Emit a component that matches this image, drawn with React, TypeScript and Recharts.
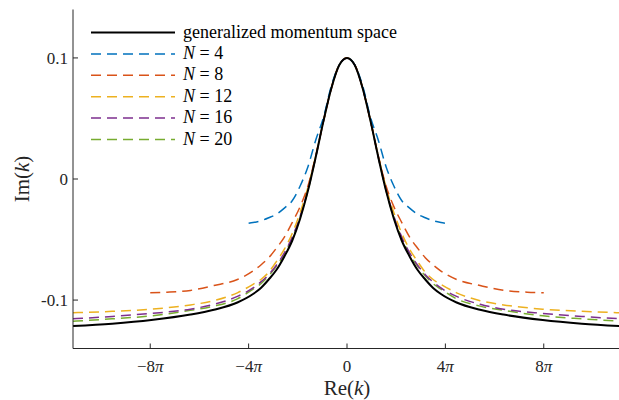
import { Legend, Line, LineChart, XAxis, YAxis } from "recharts"

const PI = Math.PI
const FONT = "'Liberation Serif', 'DejaVu Serif', serif"
const AXIS = "#262626"

// ticks
const xTicks = [-8 * PI, -4 * PI, 0, 4 * PI, 8 * PI]
const xTickLabels = ["−8", "−4", "0", "4", "8"]
const yTicks = [-0.1, 0, 0.1]
const yTickLabels = ["-0.1", "0", "0.1"]

// right half of each curve (the picture is symmetric about Re(k) = 0)
const xExact = [0, 1, 2, 3, 4, 5, 6, 7, 8, 9, 10, 11, 12, 14, 17, 20, 25, 30, 35]
const yExact = [0.1, 0.094, 0.075, 0.048, 0.018, -0.01, -0.033, -0.051, -0.064, -0.075, -0.083, -0.09, -0.095, -0.102, -0.108, -0.112, -0.1165, -0.1195, -0.1215]

const xN4 = [0, 1, 2, 3, 4, 5, 6, 7, 8, 9, 10, 11, 12, 4 * PI]
const yN4 = [0.1, 0.094, 0.077, 0.051, 0.032, 0.01, -0.006, -0.018, -0.024, -0.029, -0.032, -0.0345, -0.036, -0.0366]

const xN8 = [0, 1, 2, 3, 4, 5, 6, 7, 8, 9, 10, 11, 12, 14, 17, 20, 23, 8 * PI]
const yN8 = [0.1, 0.094, 0.075, 0.048, 0.019, -0.006, -0.023, -0.036, -0.048, -0.057, -0.065, -0.071, -0.076, -0.083, -0.088, -0.092, -0.0935, -0.094]

const yN12 = [0.1, 0.094, 0.075, 0.048, 0.019, -0.007, -0.028, -0.045, -0.058, -0.068, -0.077, -0.083, -0.087, -0.094, -0.1005, -0.104, -0.1075, -0.1093, -0.1105]
const yN16 = [0.1, 0.094, 0.075, 0.048, 0.018, -0.009, -0.031, -0.048, -0.061, -0.071, -0.079, -0.085, -0.09, -0.097, -0.1035, -0.1075, -0.111, -0.1135, -0.1155]
const yN20 = [0.1, 0.094, 0.075, 0.048, 0.018, -0.01, -0.032, -0.049, -0.062, -0.072, -0.08, -0.0865, -0.091, -0.099, -0.105, -0.1085, -0.113, -0.1155, -0.1175]

const mirror = (xs: number[], ys: number[]) => {
  const right = xs.map((x, i) => ({ x, y: ys[i] }))
  const left = right.slice(1).reverse().map((p) => ({ x: -p.x, y: p.y }))
  return [...left, ...right]
}

const series = [
  { key: "exact", n: null, color: "#000000", width: 2, dash: undefined, data: mirror(xExact, yExact) },
  { key: "n4", n: "4", color: "#0072BD", width: 1.5, dash: "10 6", data: mirror(xN4, yN4) },
  { key: "n8", n: "8", color: "#D95319", width: 1.5, dash: "10 6", data: mirror(xN8, yN8) },
  { key: "n12", n: "12", color: "#EDB120", width: 1.5, dash: "10 6", data: mirror(xExact, yN12) },
  { key: "n16", n: "16", color: "#7E2F8E", width: 1.5, dash: "10 6", data: mirror(xExact, yN16) },
  { key: "n20", n: "20", color: "#77AC30", width: 1.5, dash: "10 6", data: mirror(xExact, yN20) },
]

const XTick = ({ x, y, payload }: any) => {
  const label = xTickLabels[xTicks.indexOf(payload.value)]
  return (
    <text x={x} y={y} dy="0.71em" textAnchor="middle" fontFamily={FONT} fontSize={17} fill={AXIS}>
      {label}
      {payload.value !== 0 && <tspan fontStyle="italic">π</tspan>}
    </text>
  )
}

const YTick = ({ x, y, payload }: any) => (
  <text x={x} y={y} dy="0.35em" textAnchor="end" fontFamily={FONT} fontSize={17} fill={AXIS}>
    {yTickLabels[yTicks.indexOf(payload.value)]}
  </text>
)

const YLabel = () => (
  <text x={29} y={179} transform="rotate(-90, 29, 179)" textAnchor="middle" fontFamily={FONT} fontSize={21} fill={AXIS}>
    Im(<tspan fontStyle="italic">k</tspan>)
  </text>
)

const XLabel = () => (
  <text x={347} y={395} textAnchor="middle" fontFamily={FONT} fontSize={21} fill={AXIS}>
    Re(<tspan fontStyle="italic">k</tspan>)
  </text>
)

const LegendBox = () => (
  <svg width={420} height={160} style={{ display: "block" }}>
    {series.map((s, i) => {
      const cy = 32.5 + 21.4 * i
      return (
        <g key={s.key}>
          <line x1={91} x2={175} y1={cy} y2={cy} stroke={s.color} strokeWidth={s.width} strokeDasharray={s.dash} />
          <text x={183} y={cy + 5} fontFamily={FONT} fontSize={18} fill="#000">
            {s.n === null ? (
              "generalized momentum space"
            ) : (
              <>
                <tspan fontStyle="italic">N</tspan> = {s.n}
              </>
            )}
          </text>
        </g>
      )
    })}
  </svg>
)

export default function App() {
  return (
    <div style={{ position: "absolute", left: 0, top: 0, width: 619, height: 400, overflow: "hidden", background: "#fff" }}>
      <LineChart width={625} height={400} margin={{ top: 9.5, right: 0, bottom: 0, left: 0 }}>
        <XAxis
          xAxisId={0}
          dataKey="x"
          type="number"
          domain={[-35, 35]}
          allowDataOverflow
          ticks={xTicks}
          interval={0}
          tick={<XTick />}
          tickSize={-5}
          tickMargin={16}
          height={51.5}
          stroke={AXIS}
          label={<XLabel />}
        />
        <XAxis
          xAxisId="top"
          orientation="top"
          dataKey="x"
          type="number"
          domain={[-35, 35]}
          allowDataOverflow
          ticks={xTicks}
          interval={0}
          tick={false}
          tickSize={-5}
          height={0}
          stroke={AXIS}
        />
        <YAxis
          yAxisId={0}
          type="number"
          domain={[-0.14, 0.14]}
          allowDataOverflow
          ticks={yTicks}
          interval={0}
          tick={<YTick />}
          tickSize={-5}
          tickMargin={10}
          width={73}
          stroke={AXIS}
          label={<YLabel />}
        />
        <YAxis
          yAxisId="right"
          orientation="right"
          type="number"
          domain={[-0.14, 0.14]}
          allowDataOverflow
          ticks={yTicks}
          interval={0}
          tick={false}
          tickSize={-5}
          width={4}
          stroke={AXIS}
        />
        {series
          .slice()
          .reverse()
          .map((s) => (
            <Line
              key={s.key}
              data={s.data}
              dataKey="y"
              type="monotone"
              stroke={s.color}
              strokeWidth={s.width}
              strokeDasharray={s.dash}
              dot={false}
              activeDot={false}
              isAnimationActive={false}
            />
          ))}
        <Legend
          layout="vertical"
          align="center"
          verticalAlign="middle"
          content={<LegendBox />}
          wrapperStyle={{ left: 0, top: 0, width: 420, height: 160 }}
        />
      </LineChart>
    </div>
  )
}
